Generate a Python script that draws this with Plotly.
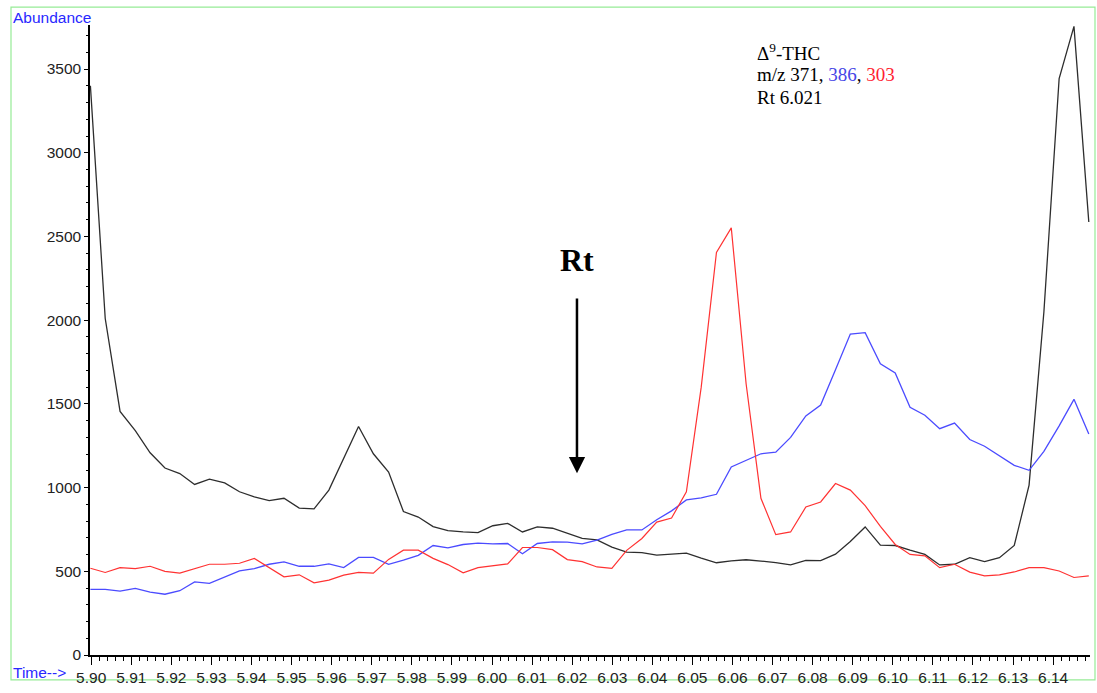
import plotly.graph_objects as go

# Retention time (min), uniform scan
time = [5.8998, 5.9035, 5.9072, 5.9110, 5.9147, 5.9184, 5.9221, 5.9258, 5.9295, 5.9333,
        5.9370, 5.9407, 5.9444, 5.9481, 5.9519, 5.9556, 5.9593, 5.9630, 5.9667, 5.9704,
        5.9742, 5.9779, 5.9816, 5.9853, 5.9890, 5.9928, 5.9965, 6.0002, 6.0039, 6.0076,
        6.0113, 6.0151, 6.0188, 6.0225, 6.0262, 6.0299, 6.0336, 6.0374, 6.0411, 6.0448,
        6.0485, 6.0522, 6.0560, 6.0597, 6.0634, 6.0671, 6.0708, 6.0745, 6.0783, 6.0820,
        6.0857, 6.0894, 6.0931, 6.0969, 6.1006, 6.1043, 6.1080, 6.1117, 6.1154, 6.1192,
        6.1229, 6.1266, 6.1303, 6.1340, 6.1377, 6.1415, 6.1452, 6.1489]

# m/z 371 (black)
mz371 = [3400, 2010, 1455, 1340, 1208, 1117, 1084, 1019, 1050, 1028,
         975, 944, 922, 936, 877, 873, 985, 1172, 1365, 1202,
         1093, 857, 824, 767, 743, 735, 731, 772, 786, 735,
         765, 757, 725, 696, 688, 644, 615, 612, 597, 605,
         609, 579, 551, 562, 569, 561, 552, 538, 565, 564,
         602, 678, 765, 656, 654, 626, 601, 538, 542, 581,
         558, 581, 654, 1015, 2050, 3443, 3755, 2586]

# m/z 386 (blue)
mz386 = [392, 392, 382, 398, 375, 363, 384, 437, 428, 467,
         502, 516, 542, 556, 530, 530, 544, 522, 583, 583,
         542, 566, 595, 654, 640, 660, 668, 664, 666, 605,
         666, 676, 674, 664, 686, 721, 747, 747, 808, 861,
         926, 938, 960, 1123, 1163, 1202, 1212, 1300, 1428, 1493,
         1704, 1917, 1925, 1740, 1685, 1480, 1432, 1352, 1385, 1287,
         1247, 1188, 1133, 1103, 1216, 1369, 1527, 1320]

# m/z 303 (red)
mz303 = [518, 493, 522, 516, 530, 500, 489, 516, 542, 542,
         548, 577, 522, 467, 479, 431, 447, 477, 493, 489,
         571, 626, 626, 577, 540, 491, 522, 534, 544, 642,
         642, 629, 570, 558, 526, 518, 625, 696, 794, 818,
         975, 1600, 2404, 2551, 1620, 936, 719, 735, 884, 914,
         1024, 985, 892, 768, 660, 601, 592, 522, 542, 495,
         473, 479, 496, 522, 522, 502, 463, 473]

y_ticks = [0, 500, 1000, 1500, 2000, 2500, 3000, 3500]

fig = go.Figure()
fig.add_trace(go.Scatter(x=time, y=mz371, mode="lines", line=dict(color="rgb(45,45,45)", width=1.3), name="371"))
fig.add_trace(go.Scatter(x=time, y=mz386, mode="lines", line=dict(color="rgb(75,75,255)", width=1.3), name="386"))
fig.add_trace(go.Scatter(x=time, y=mz303, mode="lines", line=dict(color="rgb(255,50,50)", width=1.2), name="303"))

fig.update_layout(
    width=1097, height=693,
    margin=dict(l=90, r=7, t=25, b=31),
    paper_bgcolor="white", plot_bgcolor="white",
    showlegend=False,
    font=dict(family="Liberation Sans, Arial, sans-serif", size=15, color="#222"),
    xaxis=dict(
        range=[5.8997, 6.1492], showgrid=False, zeroline=False,
        showline=True, linecolor="black", linewidth=1.5,
        ticks="outside", ticklen=8, tickwidth=1, tickcolor="black",
        tick0=5.90, dtick=0.01, tickformat=".2f",
        tickfont=dict(size=15.5, color="#222"),
        minor=dict(ticks="outside", ticklen=4, tickcolor="black", tick0=5.90, dtick=0.002),
    ),
    yaxis=dict(
        range=[0, 3763], showgrid=False, zeroline=False,
        showline=True, linecolor="black", linewidth=1.5,
        ticks="outside", ticklen=4, tickwidth=1, tickcolor="black",
        tickvals=y_ticks, ticktext=[str(v) for v in y_ticks],
        tickfont=dict(size=15.5, color="#222"),
        minor=dict(ticks="outside", ticklen=2, tickcolor="black", dtick=100),
    ),
)

# green frame
fig.add_shape(type="rect", xref="paper", yref="paper",
              x0=-0.079, x1=1.005, y0=-0.0395, y1=1.0283,
              line=dict(color="rgb(150,235,150)", width=1.2), layer="below")

blue_lab = "rgb(40,40,255)"
fig.add_annotation(xref="paper", yref="paper", x=-0.079, y=1.0126, xanchor="left", yanchor="middle",
                   text="Abundance", showarrow=False, font=dict(size=15.5, color=blue_lab))
fig.add_annotation(xref="paper", yref="paper", x=-0.079, y=-0.0283, xanchor="left", yanchor="middle",
                   text="Time-->", showarrow=False, font=dict(size=15.5, color=blue_lab))

serif = "Liberation Serif, Times New Roman, serif"
fig.add_annotation(xref="paper", yref="paper", x=0.665, y=0.9576, xanchor="left", yanchor="middle",
                   text="Δ<sup>9</sup>-THC", showarrow=False, font=dict(family=serif, size=19, color="black"))
fig.add_annotation(xref="paper", yref="paper", x=0.665, y=0.9215, xanchor="left", yanchor="middle",
                   text="m/z 371, <span style='color:rgb(70,70,230)'>386</span>, <span style='color:rgb(255,30,50)'>303</span>",
                   showarrow=False, font=dict(family=serif, size=19, color="black"))
fig.add_annotation(xref="paper", yref="paper", x=0.665, y=0.8854, xanchor="left", yanchor="middle",
                   text="Rt 6.021", showarrow=False, font=dict(family=serif, size=19, color="black"))

fig.add_annotation(x=6.0212, y=2362, xref="x", yref="y", text="<b>Rt</b>", showarrow=False,
                   font=dict(family=serif, size=32, color="black"))
fig.add_annotation(x=6.0212, y=1086, xref="x", yref="y", ax=6.0212, ay=2138, axref="x", ayref="y",
                   text="", showarrow=True, arrowhead=2, arrowsize=1.3, arrowwidth=2.5, arrowcolor="black")

fig.write_html("out.html")
